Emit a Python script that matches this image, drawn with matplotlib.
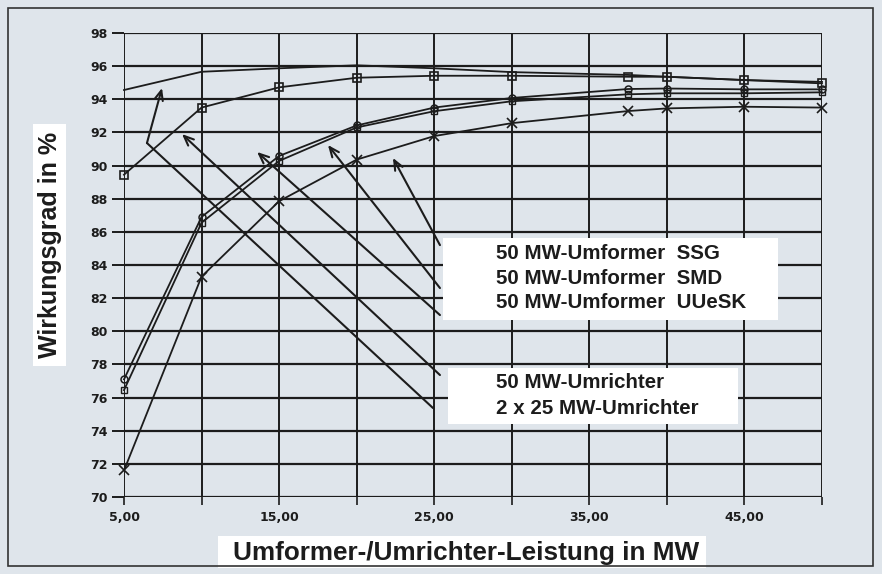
import matplotlib
matplotlib.use("Agg")
import matplotlib.pyplot as plt
from matplotlib.patches import Rectangle

# ---------------- data ----------------
x_mw = [5, 10, 15, 20, 25, 30, 37.5, 40, 45, 50]
umrichter_2x25 = [94.56, 95.66, 95.87, 96.05, 95.87, 95.64, 95.47, 95.36, 95.16, 95.05]
umrichter_50 = [89.45, 93.5, 94.72, 95.3, 95.42, 95.42, 95.36, 95.36, 95.16, 94.96]
umformer_smd = [77.1, 86.9, 90.58, 92.42, 93.5, 94.08, 94.62, 94.65, 94.6, 94.6]
umformer_uuesk = [76.45, 86.55, 90.28, 92.3, 93.28, 93.88, 94.3, 94.36, 94.36, 94.42]
umformer_ssg = [71.6, 83.3, 87.85, 90.36, 91.78, 92.56, 93.29, 93.45, 93.55, 93.5]

x_ticks = [5, 15, 25, 35, 45]
x_tick_labels = ["5,00", "15,00", "25,00", "35,00", "45,00"]
y_ticks = list(range(70, 99, 2))

labels_upper = ["50 MW-Umformer  SSG", "50 MW-Umformer  SMD", "50 MW-Umformer  UUeSK"]
labels_lower = ["50 MW-Umrichter", "2 x 25 MW-Umrichter"]
y_title = "Wirkungsgrad in %"
x_title = "Umformer-/Umrichter-Leistung in MW"

# pointer lines (data coords): list of path points, last point is arrow tip
pointers = [
    [(25.37, 85.2), (22.34, 90.46)],
    [(25.37, 82.61), (18.15, 91.24)],
    [(25.37, 80.98), (13.58, 90.82)],
    [(25.37, 77.36), (8.74, 91.9)],
    [(24.92, 75.37), (6.48, 91.36), (7.45, 94.68)],
]

# ---------------- style ----------------
W, H = 882, 574
BG = "#dfe5eb"
INK = "#1c1c1c"

fig = plt.figure(figsize=(W / 100, H / 100), dpi=100)
fig.patch.set_facecolor(BG)

def fx(px):
    return px / W

def fy(py):
    return 1 - py / H

ax = fig.add_axes([fx(124), fy(497), fx(822) - fx(124), fy(33) - fy(497)])
ax.set_facecolor(BG)
ax.set_xlim(5, 50)
ax.set_ylim(70, 98)

# grid
for yv in y_ticks:
    ax.axhline(yv, color=INK, lw=1.6, zorder=1)
for xv in range(5, 51, 5):
    ax.axvline(xv, color=INK, lw=1.4, zorder=1)
for s in ax.spines.values():
    s.set_visible(False)

ax.set_yticks(y_ticks)
ax.set_yticklabels([str(v) for v in y_ticks], fontsize=9, fontweight="bold",
                   family="DejaVu Sans", color=INK)
ax.set_xticks(list(range(5, 51, 5)))
ax.set_xticklabels([x_tick_labels[x_ticks.index(v)] if v in x_ticks else "" for v in range(5, 51, 5)],
                   fontsize=9, fontweight="bold", family="DejaVu Sans", color=INK)
ax.tick_params(axis="y", length=9, width=1.4, color=INK, pad=3)
ax.tick_params(axis="x", length=6, width=1.2, color=INK, pad=4)

# data lines
lw = 1.3
ax.plot(x_mw, umrichter_2x25, color=INK, lw=lw, zorder=3, clip_on=False)
ax.plot(x_mw, umrichter_50, color=INK, lw=lw, marker="s", ms=6, mfc="none", mec=INK, mew=1.2,
        zorder=3, clip_on=False)
ax.plot(x_mw, umformer_smd, color=INK, lw=lw, marker="o", ms=5, mfc="none", mec=INK, mew=1.1,
        zorder=3, clip_on=False)
ax.plot(x_mw, umformer_uuesk, color=INK, lw=lw, marker="s", ms=4.5, mfc="none", mec=INK, mew=1.0,
        zorder=3, clip_on=False)
ax.plot(x_mw, umformer_ssg, color=INK, lw=lw, marker="x", ms=7, mec=INK, mew=1.2,
        zorder=3, clip_on=False)

# pointer lines
for path in pointers:
    if len(path) > 2:
        xs = [p[0] for p in path[:-1]]
        ys = [p[1] for p in path[:-1]]
        ax.plot(xs, ys, color=INK, lw=1.5, zorder=4, solid_capstyle="round")
    ax.annotate("", xy=path[-1], xytext=path[-2], xycoords="data",
                arrowprops=dict(arrowstyle="->,head_length=0.7,head_width=0.3",
                                color=INK, lw=1.5, shrinkA=0, shrinkB=0),
                zorder=4)

# label boxes
fig.patches.append(Rectangle((fx(443), fy(320)), fx(778) - fx(443), fy(238) - fy(320),
                             transform=fig.transFigure, facecolor="white", edgecolor="none", zorder=10))
fig.patches.append(Rectangle((fx(448), fy(424)), fx(738) - fx(448), fy(368) - fy(424),
                             transform=fig.transFigure, facecolor="white", edgecolor="none", zorder=10))
for i, t in enumerate(labels_upper):
    fig.text(fx(496), fy(254 + i * 24.5), t, fontsize=14.8, fontweight="bold",
             family="Liberation Sans", color=INK, va="center", ha="left", zorder=11)
for i, t in enumerate(labels_lower):
    fig.text(fx(496), fy(383 + i * 25), t, fontsize=14.8, fontweight="bold",
             family="Liberation Sans", color=INK, va="center", ha="left", zorder=11)

# axis titles
fig.patches.append(Rectangle((fx(33), fy(366)), fx(66) - fx(33), fy(124) - fy(366),
                             transform=fig.transFigure, facecolor="white", edgecolor="none", zorder=10))
fig.text(fx(50), fy(245), y_title, rotation=90, fontsize=18, fontweight="bold",
         family="Liberation Sans", color=INK, va="center", ha="center", zorder=11)
fig.patches.append(Rectangle((fx(218), fy(568)), fx(706) - fx(218), fy(536) - fy(568),
                             transform=fig.transFigure, facecolor="white", edgecolor="none", zorder=10))
fig.text(fx(466), fy(553), x_title, fontsize=18.8, fontweight="bold",
         family="Liberation Sans", color=INK, va="center", ha="center", zorder=11)

# outer frame
fig.patches.append(Rectangle((fx(8), fy(566)), fx(873) - fx(8), fy(8) - fy(566),
                             transform=fig.transFigure, facecolor="none", edgecolor="#333333", lw=1.2, zorder=12))

fig.savefig("out.png", dpi=100, facecolor=BG)
